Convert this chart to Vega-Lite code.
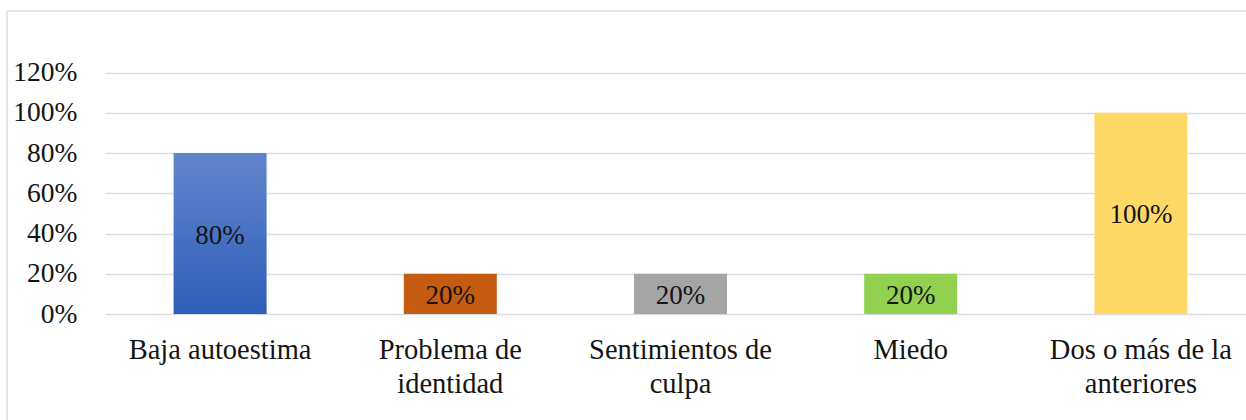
{
  "$schema": "https://vega.github.io/schema/vega-lite/v6.json",
  "width": 1239,
  "height": 409,
  "autosize": {"type": "none"},
  "padding": {"left": 7, "top": 11, "right": 0, "bottom": 0},
  "background": "white",
  "config": {
    "font": "'Liberation Serif', 'Times New Roman', 'DejaVu Serif', serif",
    "view": {"stroke": "#d9dde2", "strokeWidth": 1.5, "strokeDash": [1239, 1648, 409, 10]}
  },
  "data": {
    "values": [
      {"categoria": "Baja autoestima", "valor": 0.8},
      {"categoria": "Problema de identidad", "valor": 0.2},
      {"categoria": "Sentimientos de culpa", "valor": 0.2},
      {"categoria": "Miedo", "valor": 0.2},
      {"categoria": "Dos o más de la anteriores", "valor": 1.0}
    ]
  },
  "encoding": {
    "x": {
      "field": "categoria",
      "type": "nominal",
      "sort": null,
      "scale": {"range": [98, 1249], "paddingInner": 0.596, "paddingOuter": 0.298},
      "axis": {
        "title": null,
        "orient": "bottom",
        "offset": -105,
        "ticks": false,
        "domain": false,
        "grid": false,
        "labelAngle": 0,
        "labelFont": "'Liberation Serif', 'Times New Roman', 'DejaVu Serif', serif",
        "labelFontSize": 28.5,
        "labelColor": "#141414",
        "labelPadding": 43,
        "labelBaseline": "alphabetic",
        "labelLineHeight": 34,
        "labelLimit": 400,
        "labelOverlap": false,
        "labelBound": false,
        "labelFlush": false,
        "labelExpr": "datum.value == 'Problema de identidad' ? ['Problema de', 'identidad'] : datum.value == 'Sentimientos de culpa' ? ['Sentimientos de', 'culpa'] : datum.value == 'Dos o más de la anteriores' ? ['Dos o más de la', 'anteriores'] : datum.value"
      }
    }
  },
  "layer": [
    {
      "mark": {"type": "bar"},
      "encoding": {
        "y": {
          "field": "valor",
          "type": "quantitative",
          "title": null,
          "scale": {"domain": [0, 1.2], "range": [303, 61.5], "nice": false},
          "axis": {
            "title": null,
            "orient": "left",
            "offset": -70,
            "ticks": false,
            "domain": false,
            "grid": true,
            "gridColor": "#dadee3",
            "gridWidth": 1.5,
            "values": [0, 0.2, 0.4, 0.6, 0.8, 1, 1.2],
            "format": ".0%",
            "labelFont": "'Liberation Serif', 'Times New Roman', 'DejaVu Serif', serif",
            "labelFontSize": 27.5,
            "labelColor": "#141414",
            "labelPadding": 0
          }
        },
        "color": {
          "condition": {
            "test": "datum.categoria == 'Baja autoestima'",
            "value": {
              "gradient": "linear",
              "x1": 0, "y1": 0, "x2": 0, "y2": 1,
              "stops": [
                {"offset": 0, "color": "#6286cd"},
                {"offset": 1, "color": "#2e5eb8"}
              ]
            }
          },
          "field": "categoria",
          "type": "nominal",
          "sort": null,
          "scale": {
            "domain": ["Baja autoestima", "Problema de identidad", "Sentimientos de culpa", "Miedo", "Dos o más de la anteriores"],
            "range": ["#4472c4", "#c55a11", "#a5a5a5", "#92d050", "#ffd966"]
          },
          "legend": null
        }
      }
    },
    {
      "transform": [{"calculate": "datum.valor / 2", "as": "centro"}],
      "mark": {"type": "text", "font": "'Liberation Serif', 'Times New Roman', 'DejaVu Serif', serif", "fontSize": 27, "color": "#141414", "align": "center", "baseline": "middle", "dy": 2},
      "encoding": {
        "y": {"field": "centro", "type": "quantitative", "title": null},
        "text": {"field": "valor", "type": "quantitative", "format": ".0%"}
      }
    }
  ]
}
